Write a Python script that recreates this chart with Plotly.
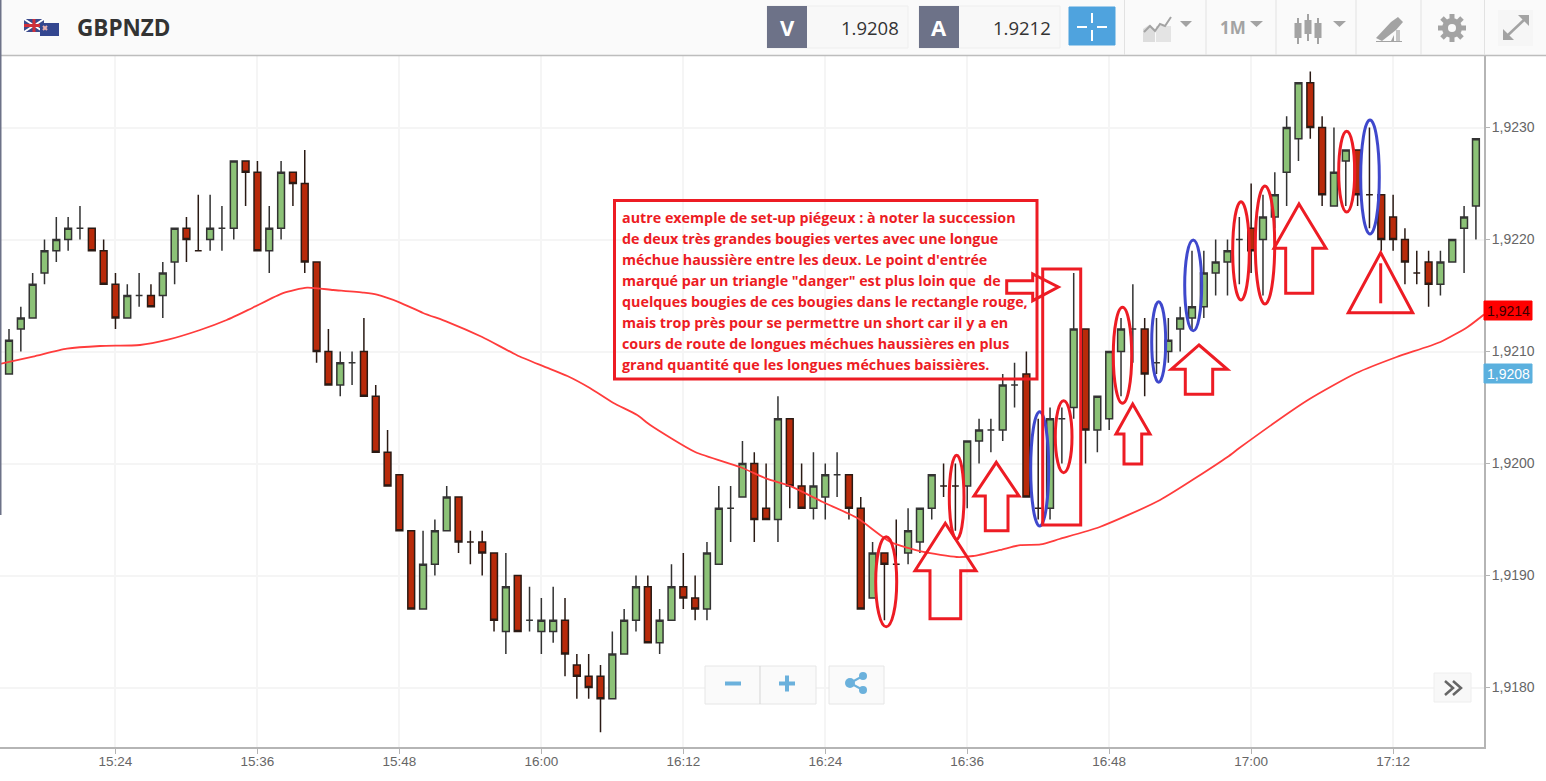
import plotly.graph_objects as go
import pandas as pd

SYMBOL = "GBPNZD"
BASE = 1.92
START = "2017-01-09 15:15"

# one-minute candles, in pips (0.0001) above 1.9200
pip_open = [8,12,13,17,19,20,21,21,19,16,13,15,15,15,18,21,19,20,21,21,27,26,19,21,26,
            25,18,10,7,9,10,6,1,-1,-6,-13,-9,-6,-3,-7,-7,-8,-15,-10,-14,-15,-15,-14,-18,-19,
            -19,-21,-17,-14,-11,-16,-14,-11,-12,-13,-9,-4,-3,0,-4,-5,4,-2,-4,-3,-1,-1,-4,-12,-8,
            -9,-8,-7,-4,-2,-2,-2,2,3,3,7,8,-4,-4,4,5,12,3,4,10,12,12,9,10,12,
            13,14,17,18,20,21,20,22,26,29,34,30,23,27,28,24,24,22,20,17,18,16,18,21,23]
pip_high = [12,14,17,20,22,22,23,21,20,17,16,17,16,18,21,22,24,24,23,27,27,27,23,27,26,
            28,18,12,10,10,13,7,3,-1,-6,-6,-5,-2,-3,-6,-6,-8,-8,-10,-11,-12,-11,-12,-17,-17,
            -18,-15,-13,-10,-10,-13,-9,-8,-10,-7,-2,-2,2,1,0,6,4,0,1,0,1,-1,-3,-7,-8,
            -5,-4,-4,-1,0,0,2,4,4,8,9,10,4,5,5,17,12,6,10,13,16,13,13,13,14,
            19,19,20,20,22,25,24,26,31,34,35,31,30,28,28,30,24,24,21,19,19,19,20,23,29]
pip_low = [8,10,13,16,18,19,20,19,16,12,13,14,14,13,16,18,19,19,19,20,23,19,17,20,23,
           17,9,7,6,7,6,1,-2,-6,-13,-13,-10,-6,-8,-9,-10,-15,-17,-15,-15,-17,-16,-19,-21,-21,
           -24,-21,-17,-15,-16,-17,-14,-13,-14,-14,-9,-7,-3,-7,-5,-7,-4,-4,-5,-5,-3,-5,-13,-12,-14,
           -9,-9,-8,-5,-3,-6,-4,0,1,2,5,-3,-5,-5,0,4,0,1,3,6,9,6,8,9,10,
           12,13,15,15,16,17,15,21,23,27,29,23,23,23,23,21,19,19,16,16,14,15,18,17,20]
pip_close = [11,13,16,19,20,21,21,19,16,13,15,15,14,17,21,20,19,21,21,27,26,19,21,26,25,
             18,10,7,9,9,6,1,-2,-6,-13,-9,-6,-3,-7,-7,-8,-14,-11,-15,-14,-14,-14,-17,-19,-20,
             -21,-17,-14,-11,-16,-14,-11,-12,-13,-8,-4,-4,0,-5,-5,4,-2,-4,-2,-1,-1,-4,-13,-8,-9,
             -9,-6,-4,-1,-2,-2,2,3,3,7,7,-3,-4,4,4,12,3,6,10,12,12,8,9,11,13,
             14,17,18,19,20,19,22,24,30,34,30,24,26,28,24,24,20,20,18,17,16,18,20,22,29]

# moving average, minutes after the first candle and price in pips above 1.9200
ma_minutes = [-0.76,2.03,4.9,7.7,11.07,13.35,16.15,18.4,20.6,23.16,25.2,27.4,30,31.1,33,35,37.1,40,42.9,45.1,
              47.2,49.1,51.1,53.1,54.2,58,61.8,64.1,66,68.8,71.7,74.5,77.3,80.1,81.5,83.8,85.5,87.2,88.8,
              92.2,97.3,103,104,109.8,113.9,117.3,121,123.3,124.68]
ma_pips = [8.9,9.54,10.25,10.49,10.58,11.03,11.92,12.81,13.91,15.22,15.7,15.49,15.25,15.07,14.39,13.44,12.63,11.29,
           9.69,8.71,7.81,6.74,5.4,4.33,3.44,1.03,-0.31,-1.38,-2.0,-3.44,-4.87,-7.0,-7.9,-8.35,-8.26,-7.72,-7.28,-7.23,
           -6.74,-5.67,-3.26,0.58,1.38,5.67,8.08,9.51,10.85,12.19,13.3]

note_lines = [
    "autre exemple de set-up piégeux : à noter la succession",
    "de deux très grandes bougies vertes avec une longue",
    "méchue haussière entre les deux. Le point d'entrée",
    "marqué par un triangle \"danger\" est plus loin que  de",
    "quelques bougies de ces bougies dans le rectangle rouge,",
    "mais trop près pour se permettre un short car il y a en",
    "cours de route de longues méchues haussières en plus",
    "grand quantité que les longues méchues baissières.",
]

W, H = 1546, 781
L_PX, T_PX, R_PX, B_PX = 0, 56, 1484, 747
X = lambda p: (p - L_PX) / (R_PX - L_PX)
Y = lambda p: 1 - (p - T_PX) / (B_PX - T_PX)

t0 = pd.Timestamp(START)
times = pd.date_range(t0, periods=len(pip_open), freq="min")
price = lambda n: round(BASE + n * 1e-4, 6)

RED = "#ed1c24"
BLUE = "#3f48cc"
GREY = "#a3a3a3"
shapes, notes = [], []

def rect(x0, y0, x1, y1, fill="rgba(0,0,0,0)", line=None, lw=0):
    shapes.append(dict(type="rect", xref="paper", yref="paper", x0=X(x0), x1=X(x1), y0=Y(y0), y1=Y(y1),
                       fillcolor=fill, line=dict(color=line or "rgba(0,0,0,0)", width=lw), layer="above"))

def ell(x0, y0, x1, y1, color):
    shapes.append(dict(type="circle", xref="paper", yref="paper", x0=X(x0), x1=X(x1), y0=Y(y0), y1=Y(y1),
                       line=dict(color=color, width=3), layer="above"))

def dot(x0, y0, x1, y1, fill, line=None, lw=0):
    shapes.append(dict(type="circle", xref="paper", yref="paper", x0=X(x0), x1=X(x1), y0=Y(y0), y1=Y(y1),
                       fillcolor=fill, line=dict(color=line or "rgba(0,0,0,0)", width=lw), layer="above"))

def poly(points, fill="rgba(0,0,0,0)", line=None, lw=0, close=True):
    path = "M" + " L".join(f"{X(a):.5f},{Y(b):.5f}" for a, b in points) + (" Z" if close else "")
    shapes.append(dict(type="path", xref="paper", yref="paper", path=path, fillcolor=fill,
                       line=dict(color=line or "rgba(0,0,0,0)", width=lw), layer="above"))

def text(x, y, s, size, color, anchor="left", family="Open Sans", bold=False):
    notes.append(dict(xref="paper", yref="paper", x=X(x), y=Y(y), text=f"<b>{s}</b>" if bold else s,
                      showarrow=False, xanchor=anchor, yanchor="middle", borderpad=0,
                      font=dict(size=size, color=color, family=family)))

def up_arrow(cx, tip, base, x0, x1, s0, s1, bottom):
    poly([(cx, tip), (x1, base), (s1, base), (s1, bottom), (s0, bottom), (s0, base), (x0, base)], line=RED, lw=3)

# toolbar
rect(0, 0, W, 55, fill="#fafafa")
poly([(0, 55.5), (W, 55.5)], line="#bdbdbd", lw=1.5, close=False)
rect(0, 0, 1.5, 515, fill="#6d7288")
# flags
rect(24, 19, 44, 32, fill="#3b4a8c")
poly([(24, 19), (44, 32)], line="#ffffff", lw=2, close=False)
poly([(44, 19), (24, 32)], line="#ffffff", lw=2, close=False)
poly([(34, 19), (34, 32)], line="#d0303a", lw=3, close=False)
poly([(24, 25.5), (44, 25.5)], line="#d0303a", lw=3, close=False)
rect(40, 23, 59, 36, fill="#33468f")
poly([(43, 26), (47, 30)], line="#e8b0b0", lw=2, close=False)
poly([(47, 26), (43, 30)], line="#e8b0b0", lw=2, close=False)
text(76, 27, SYMBOL, 22.5, "#333333", bold=True)
# bid / ask boxes
for x0, x1, x2, letter, val in [(767, 807, 908, "V", "1.9208"), (919, 959, 1060, "A", "1.9212")]:
    rect(x0, 6, x2, 48, fill="#f8f8f8", line="#eeeeee", lw=1)
    rect(x0, 6, x1, 48, fill="#6d7288")
    text((x0 + x1) / 2, 27, letter, 22, "#ffffff", anchor="center", bold=True)
    text(x2 - 8, 27, val, 18.5, "#333333", anchor="right", family="Open Sans")
rect(1069, 7, 1115, 45, fill="#4fa3de", line="#4fa3de", lw=1)
for seg in [[(1092, 13), (1092, 23)], [(1092, 30), (1092, 41)], [(1077, 27), (1087, 27)], [(1097, 27), (1107, 27)]]:
    poly(seg, line="#ffffff", lw=2, close=False)
for sx in [1124.5, 1206, 1276, 1356, 1421, 1484.5]:
    poly([(sx, 0), (sx, 55)], line="#e2e2e2", lw=1, close=False)
# chart type icon
poly([(1143, 42), (1143, 29), (1149, 25), (1155, 29), (1155, 42)], fill="#dddddd")
rect(1156, 26, 1171, 42, fill="#e4e4e4")
poly([(1144, 32), (1150, 26), (1155, 31), (1160, 24), (1165, 26), (1171, 17)], line=GREY, lw=2, close=False)
poly([(1180, 21), (1192, 21), (1186, 27)], fill=GREY)
text(1219, 27, "1M", 17, GREY, bold=True)
poly([(1250, 21), (1263, 21), (1256.5, 27)], fill=GREY)
# candle icon
for cx, a, b, c, d in [(1298, 23, 38, 18, 44), (1308, 20, 34, 14, 41), (1318, 23, 38, 18, 44)]:
    poly([(cx, c), (cx, d)], line=GREY, lw=2, close=False)
    rect(cx - 3.5, a, cx + 3.5, b, fill=GREY)
poly([(1333, 21), (1346, 21), (1339.5, 27)], fill=GREY)
# drawing tool icon
poly([(1376, 38), (1391, 22), (1398, 17), (1403, 22), (1396, 30), (1382, 41)], fill=GREY)
poly([(1391, 41), (1394, 35), (1394, 41)], fill=GREY)
rect(1396, 30, 1400, 41, fill="#c5c5c5")
rect(1376, 41, 1402, 42, fill=GREY)
# settings gear
for seg in [[(1452, 14), (1452, 42)], [(1438, 28), (1466, 28)], [(1442, 18), (1462, 38)], [(1462, 18), (1442, 38)]]:
    poly(seg, line=GREY, lw=5, close=False)
dot(1442, 18, 1462, 38, GREY)
dot(1448, 24, 1456, 32, "#fafafa")
# fullscreen icon
rect(1498, 10, 1533, 46, fill="#f6f6f6")
poly([(1507, 36), (1525, 19)], line=GREY, lw=2.5, close=False)
poly([(1518, 15), (1529, 15), (1529, 26)], fill=GREY)
poly([(1503, 29), (1503, 40), (1514, 40)], fill=GREY)

# zoom and share buttons
rect(705, 666, 816, 704, fill="#fafafa", line="#e6e6e6", lw=1)
poly([(760, 666), (760, 704)], line="#d5d5d5", lw=1, close=False)
poly([(725, 683.5), (741, 683.5)], line="#6bb1dc", lw=4, close=False)
poly([(779, 683.5), (795, 683.5)], line="#6bb1dc", lw=4, close=False)
poly([(787, 675.5), (787, 691.5)], line="#6bb1dc", lw=4, close=False)
rect(829, 666, 884, 704, fill="#fafafa", line="#e6e6e6", lw=1)
poly([(850, 683), (863, 676)], line="#6bb1dc", lw=2, close=False)
poly([(850, 683), (863, 690)], line="#6bb1dc", lw=2, close=False)
dot(845, 678, 855, 688, "#6bb1dc")
dot(859, 672, 867, 680, "#6bb1dc")
dot(859, 686, 867, 694, "#6bb1dc")
rect(1434, 673, 1471, 702, fill="#f8f8f8", line="#eeeeee", lw=1)
poly([(1445, 681), (1453, 688), (1445, 695)], line="#666666", lw=2.5, close=False)
poly([(1453, 681), (1461, 688), (1453, 695)], line="#666666", lw=2.5, close=False)

# price tags
rect(1484, 301, 1532, 320, fill="#ff0000", line="#ff0000", lw=1)
text(1508, 311, "1,9214", 14, "#3a0000", anchor="center", family="Liberation Sans")
rect(1484, 364, 1532, 383, fill="#5bb0de", line="#5bb0de", lw=1)
text(1508, 374, "1,9208", 14, "#ffffff", anchor="center", family="Liberation Sans")

# hand drawn marks
for e in [(875.7, 536.7, 896.7, 626.7), (949.3, 455.3, 964, 539.3), (1055.3, 400.7, 1072, 472.7),
          (1113.3, 307.3, 1131.7, 403.3), (1232.7, 201.7, 1249.3, 300), (1255.3, 186, 1274.7, 304),
          (1338.7, 131.3, 1354.7, 212)]:
    ell(*e, RED)
for e in [(1030.7, 411.7, 1048.7, 526), (1151.7, 301.7, 1165.7, 382.3),
          (1184.7, 240, 1201.7, 330.7), (1360.7, 120, 1379.3, 234)]:
    ell(*e, BLUE)
rect(1042.7, 269, 1080.7, 525, line=RED, lw=3)
up_arrow(945.3, 523.3, 570.7, 915, 976, 930, 960.7, 618.7)
up_arrow(996.3, 462.3, 496, 974, 1019, 985.3, 1008, 530.7)
up_arrow(1132.7, 404, 434, 1116, 1150, 1124, 1141.7, 464)
up_arrow(1199, 345, 369.3, 1171.3, 1227.3, 1185.3, 1212.7, 394.3)
up_arrow(1299, 204, 248.3, 1274, 1326, 1285.7, 1312.7, 293.3)
poly([(1006.7, 280.7), (1032.7, 280.7), (1032.7, 274), (1058.3, 287), (1032.7, 300.7), (1032.7, 293.3), (1006.7, 293.3)], line=RED, lw=3)
poly([(1380.7, 252.7), (1412.7, 312.7), (1348.3, 312.7)], line=RED, lw=3)
poly([(1380.7, 263.3), (1380.7, 303.3)], line=RED, lw=3, close=False)

# note
rect(614.5, 200.5, 1037, 379, line=RED, lw=3)
for i, s in enumerate(note_lines):
    text(620.5, 217 + 21 * i, s, 14.3, RED, bold=True)

fig = go.Figure()
fig.add_trace(go.Candlestick(
    x=times, open=[price(v) for v in pip_open], high=[price(v) for v in pip_high],
    low=[price(v) for v in pip_low], close=[price(v) for v in pip_close],
    whiskerwidth=0,
    increasing=dict(fillcolor="#8cc277", line=dict(color="#333333", width=1.5)),
    decreasing=dict(fillcolor="#b82a0a", line=dict(color="#2a1a14", width=1.5)),
    showlegend=False, hoverinfo="skip"))
fig.add_trace(go.Scatter(
    x=[t0 + pd.Timedelta(minutes=m) for m in ma_minutes], y=[price(v) for v in ma_pips],
    mode="lines", line=dict(color="#ff3c3c", width=1.8, shape="spline", smoothing=0.6),
    showlegend=False, hoverinfo="skip"))

range_y = [BASE + (463.5 - B_PX) / 112000, BASE + (463.5 - T_PX) / 112000]
range_x = [t0 + pd.Timedelta(minutes=(L_PX - 9) / 11.83), t0 + pd.Timedelta(minutes=(R_PX - 9) / 11.83)]

fig.update_layout(
    width=W, height=H, margin=dict(l=L_PX, r=W - R_PX, t=T_PX, b=H - B_PX, autoexpand=False),
    paper_bgcolor="#ffffff", plot_bgcolor="#ffffff", separators=", ", boxgap=0.18,
    font=dict(family="Liberation Sans", size=14, color="#666666"),
    shapes=shapes, annotations=notes,
    xaxis=dict(type="date", range=range_x, rangeslider=dict(visible=False), tick0="2017-01-09 15:24",
               dtick=12 * 60000, tickformat="%H:%M", showgrid=True, gridcolor="#f5f5f5", gridwidth=2,
               showline=True, linecolor="#b5b5b5", linewidth=2, ticks="outside", ticklen=5, tickcolor="#b5b5b5",
               tickwidth=1, ticklabelstandoff=-4, tickfont=dict(size=13.5, color="#666666"), zeroline=False),
    yaxis=dict(side="right", range=range_y, tick0=1.92, dtick=0.001, tickformat=".4f", showgrid=True,
               gridcolor="#f5f5f5", gridwidth=2, showline=True, linecolor="#b5b5b5", linewidth=2,
               ticks="outside", ticklen=4, tickcolor="#b5b5b5", tickwidth=1, ticklabelstandoff=-1,
               tickfont=dict(size=14, color="#666666"), zeroline=False),
)
fig.write_html("out.html", config=dict(displayModeBar=False),
               post_script="document.body.style.margin='0';")
